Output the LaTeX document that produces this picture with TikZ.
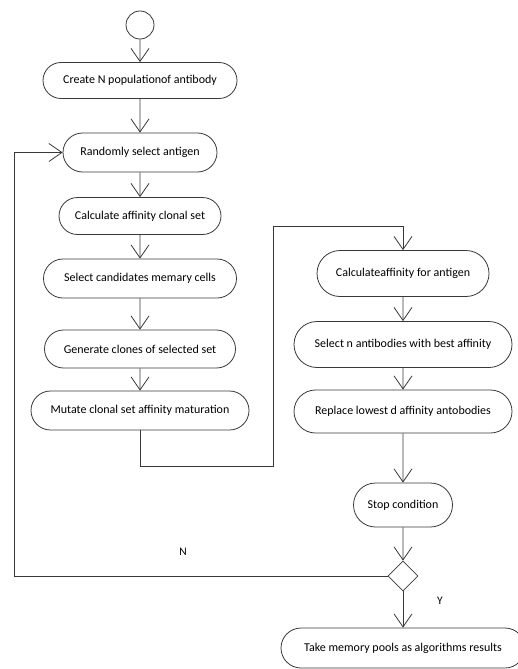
\documentclass[tikz,border=0pt]{standalone}
\usepackage{fontspec}
\setmainfont{Carlito}
\usetikzlibrary{arrows.meta,shapes.geometric,shapes.misc}
\definecolor{linec}{HTML}{383838}
\begin{document}
\begin{tikzpicture}[x=1pt,y=-1pt,
  act/.style={draw=linec, line width=0.8pt, rounded rectangle, inner sep=0pt,
    font=\fontsize{12}{14}\selectfont, text=black},
  conn/.style={draw=linec, line width=0.8pt, -{Straight Barb[length=13pt,width=18pt]}},
  lbl/.style={font=\fontsize{11.5}{13}\selectfont, text=black}]
\useasboundingbox (0,0) rectangle (518,669);
\node[draw=linec, line width=0.8pt, circle, minimum size=28pt, inner sep=0pt] (start) at (140,25) {};
\node[act, minimum width=194pt, minimum height=36pt] (b1) at (140,80.5) {Create N populationof antibody};
\node[act, minimum width=154pt, minimum height=39pt] (b2) at (140,152.5) {Randomly select antigen};
\node[act, minimum width=162pt, minimum height=37pt] (b3) at (140,216) {Calculate affinity clonal set};
\node[act, minimum width=193pt, minimum height=39pt] (b4) at (140,278.5) {Select candidates memary cells};
\node[act, minimum width=191pt, minimum height=38pt] (b5) at (140,349) {Generate clones of selected set};
\node[act, minimum width=218pt, minimum height=39pt] (b6) at (140,410.5) {Mutate clonal set affinity maturation};
\node[act, minimum width=172pt, minimum height=46pt] (b7) at (403,273.5) {Calculateaffinity for antigen};
\node[act, minimum width=218pt, minimum height=46pt] (b8) at (403,344.5) {Select n antibodies with best affinity};
\node[act, minimum width=218pt, minimum height=43pt] (b9) at (403,411.5) {Replace lowest d affinity antobodies};
\node[act, minimum width=99pt, minimum height=44pt] (stop) at (403,505) {Stop condition};
\node[draw=linec, line width=0.8pt, diamond, minimum width=30pt, minimum height=30pt, inner sep=0pt] (dia) at (403,576) {};
\node[act, minimum width=244pt, minimum height=40pt] (fin) at (403,648) {Take memory pools as algorithms results};
\node[lbl] (ln) at (183,552) {N};
\node[lbl] (ly) at (440,601) {Y};
\coordinate (p2) at (273,466);
\coordinate (p3) at (273,226);
\coordinate (q1) at (14,576);
\draw[conn] (start) -- (b1);
\draw[conn] (b1) -- (b2);
\draw[conn] (b2) -- (b3);
\draw[conn] (b3) -- (b4);
\draw[conn] (b4) -- (b5);
\draw[conn] (b5) -- (b6);
\draw[conn] (b6.south) |- (p2) -- (p3) -| (b7.north);
\draw[conn] (b7) -- (b8);
\draw[conn] (b8) -- (b9);
\draw[conn] (b9) -- (stop);
\draw[conn] (stop) -- (dia);
\draw[conn] (dia) -- (fin);
\draw[conn] (dia.west) -- (q1) |- (b2.west);
\end{tikzpicture}
\end{document}
